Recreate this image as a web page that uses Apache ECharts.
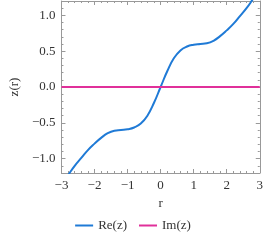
<!DOCTYPE html>
<html><head><meta charset="utf-8">
<script src="https://cdn.jsdelivr.net/npm/echarts@6/dist/echarts.min.js"></script>
<style>html,body{margin:0;padding:0;background:#fff}#c{width:266px;height:240px}</style>
</head><body><div id="c"></div>
<script>
var rValues = [-3.0,-2.8,-2.6,-2.4,-2.2,-2.0,-1.8,-1.6,-1.4,-1.2,-1.0,-0.8,-0.6,-0.4,-0.2,0.0,0.2,0.4,0.6,0.8,1.0,1.2,1.4,1.6,1.8,2.0,2.2,2.4,2.6,2.8,3.0];
var reValues = [-1.36,-1.23,-1.10,-0.99,-0.88,-0.79,-0.71,-0.645,-0.61,-0.60,-0.59,-0.565,-0.51,-0.40,-0.22,0,0.22,0.40,0.51,0.565,0.59,0.60,0.61,0.645,0.71,0.79,0.88,0.99,1.10,1.23,1.36];
var imValues = [0,0,0,0,0,0,0,0,0,0,0,0,0,0,0,0,0,0,0,0,0,0,0,0,0,0,0,0,0,0,0];
var yMajorTicks = [-1.0,-0.5,0.0,0.5,1.0];
var yMinorTicks = [];
for (var i = -12; i <= 12; i++) { yMinorTicks.push(i/10); }
var seriesNames = ['Re(z)','Im(z)'];

var font = 'Liberation Serif';
var axisColor = '#999';
var chart = echarts.init(document.getElementById('c'), null, {renderer:'canvas'});
function xAx(pos, show){
  return {type:'value', min:-3, max:3, interval:1, position:pos,
    name: show ? 'r' : '', nameLocation:'middle', nameGap:24,
    nameTextStyle:{fontFamily:font, fontSize:13, color:'#333'},
    axisLine:{show:true, onZero:false, lineStyle:{color:axisColor, width:1}},
    axisTick:{show:true, inside:true, length:4, lineStyle:{color:axisColor}},
    minorTick:{show:true, splitNumber:5, length:2, lineStyle:{color:axisColor}},
    axisLabel:{show:show, fontFamily:font, fontSize:13, color:'#333', margin:6,
      formatter:function(v){return v<0 ? '\u2212'+(-v) : String(v);}},
    splitLine:{show:false}, minorSplitLine:{show:false}};
}
function yAx(pos, show, ticks, len, line){
  return {type:'value', min:-1.2, max:1.2, position:pos,
    name: show ? 'z(r)' : '', nameLocation:'middle', nameGap:40,
    nameTextStyle:{fontFamily:font, fontSize:13, color:'#333'},
    axisLine:{show:line, onZero:false, lineStyle:{color:axisColor, width:1}},
    axisTick:{show:true, inside:true, length:len, customValues:ticks, lineStyle:{color:axisColor}},
    axisLabel:{show:show, fontFamily:font, fontSize:13, color:'#333', margin:6, customValues: show ? yMajorTicks : undefined,
      formatter:function(v){return v<0 ? '\u2212'+(-v).toFixed(1) : v.toFixed(1);}},
    splitLine:{show:false}};
}
chart.setOption({
  animation:false,
  grid:{left:47, right:4, top:1, bottom:67, containLabel:false},
  legend:{bottom:3, left:'center', icon:'rect', itemWidth:18, itemHeight:2, itemGap:12,
    textStyle:{fontFamily:font, fontSize:13, color:'#333'}, data:seriesNames},
  xAxis:[xAx('bottom', true), xAx('top', false)],
  yAxis:[yAx('left', true, yMajorTicks, 4, true), yAx('left', false, yMinorTicks, 2, false),
         yAx('right', false, yMajorTicks, 4, true), yAx('right', false, yMinorTicks, 2, false)],
  series:[
    {name:seriesNames[0], type:'line', xAxisIndex:0, yAxisIndex:0, smooth:true, symbol:'none', clip:true,
     lineStyle:{color:'#1f7ad6', width:2}, itemStyle:{color:'#1f7ad6'},
     data: rValues.map(function(r,i){return [r, reValues[i]];})},
    {name:seriesNames[1], type:'line', xAxisIndex:0, yAxisIndex:0, symbol:'none', clip:true,
     lineStyle:{color:'#e0309a', width:2}, itemStyle:{color:'#e0309a'},
     data: rValues.map(function(r,i){return [r, imValues[i]];})}
  ]
});
</script></body></html>
